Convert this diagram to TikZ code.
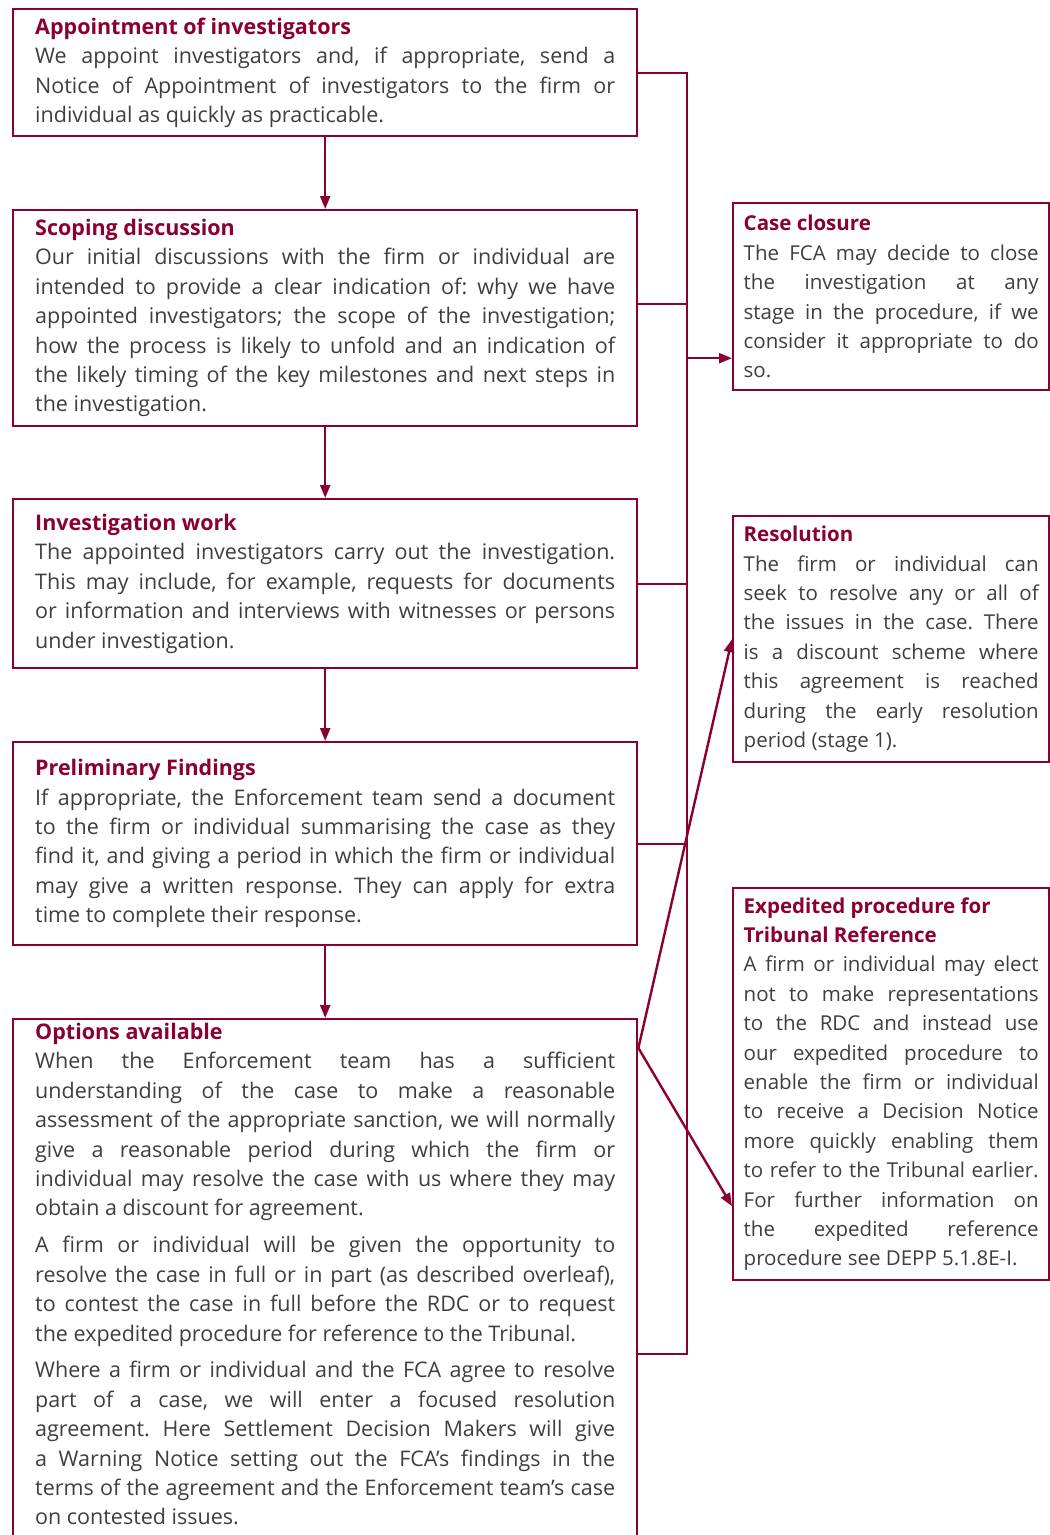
\documentclass[tikz,border=0pt]{standalone}
\usepackage{fontspec}
\setmainfont{Open Sans}
\usetikzlibrary{arrows.meta}
\definecolor{fcared}{RGB}{139,0,51}
\definecolor{bodygrey}{RGB}{62,62,62}
\newcommand{\boxtitle}[1]{{\bfseries\color{fcared}#1}\\}
\frenchspacing

\begin{document}
\begin{tikzpicture}[x=1pt, y=1pt, >={Triangle[length=13pt,width=10pt]},
    stagebox/.style={draw=fcared, line width=2.4pt, anchor=north west, text width=580pt,
      inner xsep=22pt, inner ysep=4pt, align=justify, text=bodygrey,
      font=\fontsize{21.5}{29.4}\selectfont},
    sidebox/.style={stagebox, text width=295pt, inner xsep=10.5pt,
      font=\fontsize{20.5}{29.4}\selectfont},
    link/.style={fcared, line width=2.4pt},
    flow/.style={link, ->}]
    \useasboundingbox (0,0) rectangle (1050,-1535);
    \clip (0,0) rectangle (1050,-1535);

    % stages
    \node[stagebox, minimum height=127pt] (appoint) at (12,-8) {\boxtitle{Appointment of investigators}
      We appoint investigators and, if appropriate, send a\linebreak
      Notice of Appointment of investigators to the firm or\linebreak
      individual as quickly as practicable.};
    \node[stagebox, minimum height=216pt] (scoping) at (12,-209) {\boxtitle{Scoping discussion}
      Our initial discussions with the firm or individual are\linebreak
      intended to provide a clear indication of: why we have\linebreak
      appointed investigators; the scope of the investigation;\linebreak
      how the process is likely to unfold and an indication of\linebreak
      the likely timing of the key milestones and next steps in\linebreak
      the investigation.};
    \node[stagebox, minimum height=169pt] (work) at (12,-498) {\boxtitle{Investigation work}
      The appointed investigators carry out the investigation.\linebreak
      This may include, for example, requests for documents\linebreak
      or information and interviews with witnesses or persons\linebreak
      under investigation.};
    \node[stagebox, minimum height=203pt] (prelim) at (12,-741) {\boxtitle{Preliminary Findings}
      If appropriate, the Enforcement team send a document\linebreak
      to the firm or individual summarising the case as they\linebreak
      find it, and giving a period in which the firm or individual\linebreak
      may give a written response. They can apply for extra\linebreak
      time to complete their response.};
    \node[stagebox] (options) at (12,-1018) {\boxtitle{Options available}
      When the Enforcement team has a sufficient\linebreak
      understanding of the case to make a reasonable\linebreak
      assessment of the appropriate sanction, we will normally\linebreak
      give a reasonable period during which the firm or\linebreak
      individual may resolve the case with us where they may\linebreak
      obtain a discount for agreement.\par\vspace{7.5pt}
      A firm or individual will be given the opportunity to\linebreak
      resolve the case in full or in part (as described overleaf),\linebreak
      to contest the case in full before the RDC or to request\linebreak
      the expedited procedure for reference to the Tribunal.\par\vspace{7.5pt}
      Where a firm or individual and the FCA agree to resolve\linebreak
      part of a case, we will enter a focused resolution\linebreak
      agreement. Here Settlement Decision Makers will give\linebreak
      a Warning Notice setting out the FCA’s findings in the\linebreak
      terms of the agreement and the Enforcement team’s case\linebreak
      on contested issues.\par\vspace*{14pt}};

    % side boxes
    \node[sidebox, minimum height=187pt] (closure) at (732,-202) {\boxtitle{Case closure}
      The FCA may decide to close\linebreak
      the investigation at any\linebreak
      stage in the procedure, if we\linebreak
      consider it appropriate to do\linebreak
      so.};
    \node[sidebox, minimum height=246pt] (resolution) at (732,-515) {\boxtitle{Resolution}
      The firm or individual can\linebreak
      seek to resolve any or all of\linebreak
      the issues in the case. There\linebreak
      is a discount scheme where\linebreak
      this agreement is reached\linebreak
      during the early resolution\linebreak
      period (stage 1).};
    \node[sidebox, minimum height=392pt] (expedited) at (732,-887) {\boxtitle{Expedited procedure for\\Tribunal Reference}
      A firm or individual may elect\linebreak
      not to make representations\linebreak
      to the RDC and instead use\linebreak
      our expedited procedure to\linebreak
      enable the firm or individual\linebreak
      to receive a Decision Notice\linebreak
      more quickly enabling them\linebreak
      to refer to the Tribunal earlier.\linebreak
      For further information on\linebreak
      the expedited reference\linebreak
      procedure see DEPP \mbox{5.1.8E-I.}};

    % helper points
    \coordinate (busend) at (687,-1354);
    \coordinate (scopeout) at ([yshift=14pt]scoping.east);
    \coordinate (closein) at ([yshift=-61.5pt]closure.west);
    \coordinate (fork) at ([yshift=-30pt]options.north east);
    \coordinate (expin) at ([yshift=-122pt]expedited.west);

    % arrows down
    \draw[flow] (appoint) -- (scoping);
    \draw[flow] (scoping) -- (work);
    \draw[flow] (work) -- (prelim);
    \draw[flow] (prelim) -- (options);

    % bus to case closure
    \draw[link] (appoint.east) -| (busend) -- (busend -| options.east);
    \draw[link] (scopeout) -- (scopeout -| busend);
    \draw[link] (work.east) -- (work.east -| busend);
    \draw[link] (prelim.east) -- (prelim.east -| busend);
    \draw[flow] (closein -| busend) -- (closein);

    % options to side boxes
    \draw[flow] (fork) -- (resolution.west);
    \draw[flow] (fork) -- (expin);
\end{tikzpicture}
\end{document}
